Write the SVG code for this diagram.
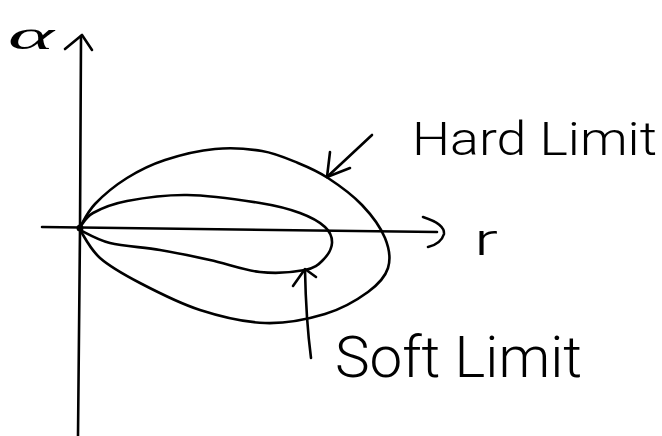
<svg xmlns="http://www.w3.org/2000/svg" width="662" height="436" viewBox="0 0 662 436">
<style>
.ln{fill:none;stroke:#000;stroke-width:2.6;stroke-linecap:round;stroke-linejoin:round}
.tx{font-family:Roboto,"Liberation Sans",sans-serif;font-weight:300;fill:#000}
.gr{font-family:"Liberation Serif","DejaVu Serif",serif;font-style:italic;fill:#000}
</style>
<rect width="662" height="436" fill="#fff"/>
<g id="axes">
  <path class="ln" d="M81,36 L80,230 L78,436"/>
  <path class="ln" d="M65,49 L82,35 L92,50"/>
  <path class="ln" d="M42,227 L437,232"/>
  <path class="ln" d="M423,217 Q445,224 444,234 Q441,244 428,247"/>
  <circle cx="80" cy="228" r="3.5" fill="#000"/>
</g>
<g id="hard-limit-curve">
  <path class="ln" d="M80,227 C82.5,223.2 87.2,212.2 95,204 C102.8,195.8 115.3,185.3 127,178 C138.7,170.7 150.3,164.8 165,160 C179.7,155.2 198.8,150.5 215,149 C231.2,147.5 248.2,148.7 262,151 C275.8,153.3 287,158.5 298,163 C309,167.5 317.3,171 328,178 C338.7,185 352.5,195 362,205 C371.5,215 380.7,227.5 385,238 C389.3,248.5 390.8,259 388,268 C385.2,277 378.5,284.3 368,292 C357.5,299.7 342.2,308.8 325,314 C307.8,319.2 285.8,323.7 265,323 C244.2,322.3 220.8,316.7 200,310 C179.2,303.3 156.7,291.7 140,283 C123.3,274.3 110,266.8 100,258 C90,249.2 83.3,234.7 80,230"/>
</g>
<g id="soft-limit-curve">
  <path class="ln" d="M80,227 C82.2,224.7 85.2,217.3 93,213 C100.8,208.7 111.3,204 127,201 C142.7,198 164.8,194.7 187,195 C209.2,195.3 241.2,200 260,203 C278.8,206 289.2,209 300,213 C310.8,217 319.7,222 325,227 C330.3,232 332.3,237.5 332,243 C331.7,248.5 327.5,255.5 323,260 C318.5,264.5 315.5,268 305,270 C294.5,272 275.8,273.7 260,272 C244.2,270.3 226.7,263.7 210,260 C193.3,256.3 176.7,252.8 160,250 C143.3,247.2 123.3,246.3 110,243 C96.7,239.7 85,232.2 80,230"/>
</g>
<g id="connectors">
  <path class="ln" d="M372,135 L327,177"/>
  <path class="ln" d="M330,152 L327,177 L350,168"/>
  <path class="ln" d="M311,358 Q306,320 305,270"/>
  <path class="ln" d="M293,286 L305,269 L316,277"/>
</g>
<g id="labels">
  <text class="gr" x="8" y="49" font-size="42" textLength="46" lengthAdjust="spacingAndGlyphs">α</text>
  <text class="tx" x="474" y="255" font-size="44" textLength="24" lengthAdjust="spacingAndGlyphs">r</text>
  <text id="hard-limit" class="tx" x="412" y="155" font-size="46" textLength="245" lengthAdjust="spacingAndGlyphs">Hard Limit</text>
  <text id="soft-limit" class="tx" x="335" y="377" font-size="58" textLength="247" lengthAdjust="spacingAndGlyphs">Soft Limit</text>
</g>
</svg>
